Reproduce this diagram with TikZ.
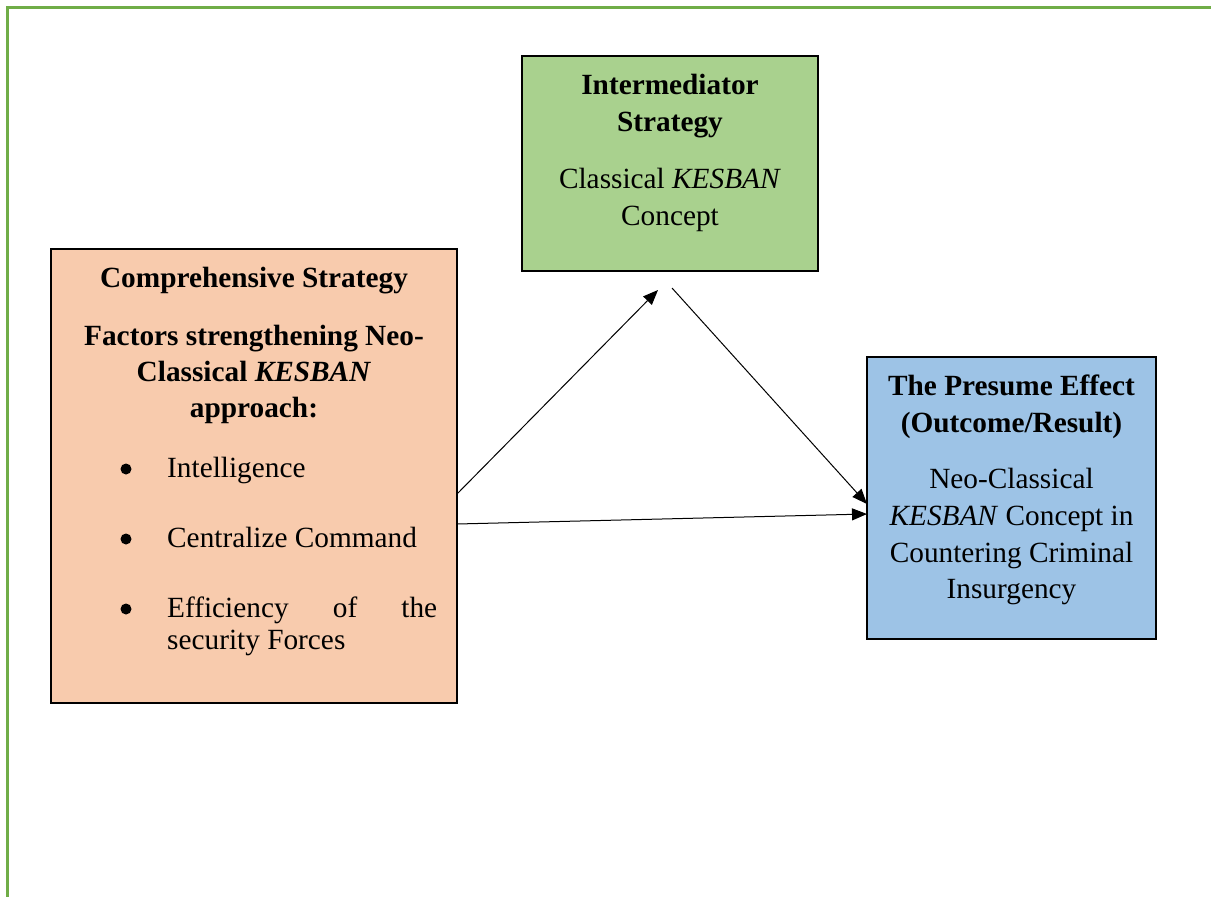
\documentclass[tikz,border=0pt]{standalone}
\usepackage{fontspec}
\setmainfont{Liberation Serif}
\usetikzlibrary{arrows.meta}
\definecolor{frameg}{HTML}{70AD47}
\definecolor{orfill}{HTML}{F8CBAD}
\definecolor{grfill}{HTML}{A9D18E}
\definecolor{blfill}{HTML}{9DC3E6}
\begin{document}
\begin{tikzpicture}[x=1pt,y=-1pt,
  box/.style={draw=black, line width=1.2pt, inner sep=0pt, outer sep=0pt, anchor=north west},
  txt/.style={anchor=base, inner sep=0pt, font=\fontsize{29.3}{36.7}\selectfont},
  ltxt/.style={txt, anchor=base west},
  arr/.style={-{Triangle[length=15pt,width=12pt]}, line width=1pt},
  bul/.style={fill=black}]
\useasboundingbox (0,0) rectangle (1211,897);
\fill[white] (0,0) rectangle (1211,897);
\draw[frameg, line width=3pt] (7.5,897) -- (7.5,7.5) -- (1211,7.5);

% boxes
\node[box, fill=orfill, minimum width=406pt, minimum height=454pt] (orange) at (51,249) {};
\node[box, fill=grfill, minimum width=296pt, minimum height=215pt] (green) at (522,56) {};
\node[box, fill=blfill, minimum width=289pt, minimum height=282pt] (blue) at (867,357) {};

% orange text
\node[txt] (o1) at (254,287) {\bfseries Comprehensive Strategy};
\node[txt] (o2) at (254,345) {\bfseries Factors strengthening Neo-};
\node[txt] (o3) at (254,381) {\bfseries Classical \textit{KESBAN}};
\node[txt] (o4) at (254,417) {\bfseries approach:};
\fill[bul] (126,469) circle (5.5pt);
\fill[bul] (126,539) circle (5.5pt);
\fill[bul] (126,609) circle (5.5pt);
\node[ltxt] (b1) at (167,477) {Intelligence};
\node[ltxt] (b2) at (167,547) {Centralize Command};
\node[ltxt] (b3) at (167,617) {\hbox to 270pt{Efficiency\hfill of\hfill the}};
\node[ltxt] (b4) at (167,649) {security Forces};

% green text
\node[txt] (g1) at (670,94) {\bfseries Intermediator};
\node[txt] (g2) at (670,131) {\bfseries Strategy};
\node[txt] (g3) at (670,188) {Classical \textit{KESBAN}};
\node[txt] (g4) at (670,225) {Concept};

% blue text
\node[txt] (e1) at (1011.5,395) {\bfseries The Presume Effect};
\node[txt] (e2) at (1011.5,432) {\bfseries (Outcome/Result)};
\node[txt] (e3) at (1011.5,488) {Neo-Classical};
\node[txt] (e4) at (1011.5,525) {\textit{KESBAN} Concept in};
\node[txt] (e5) at (1011.5,562) {Countering Criminal};
\node[txt] (e6) at (1011.5,598) {Insurgency};

% connectors
\coordinate (gin) at (658,290);
\coordinate (gout) at (672,288);
\draw[arr] ([yshift=-18pt]orange.east) -- (gin);
\draw[arr] (gout) -- ([yshift=-6pt]blue.west);
\draw[arr] ([yshift=-48pt]orange.east) -- ([yshift=-16pt]blue.west);
\end{tikzpicture}
\end{document}
